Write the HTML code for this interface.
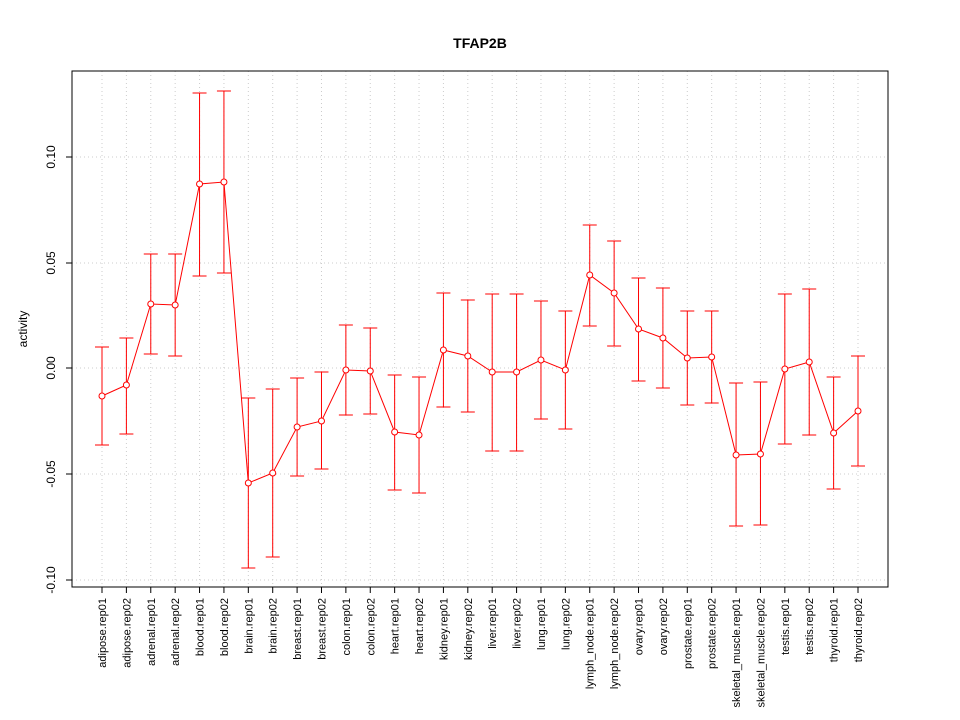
<!DOCTYPE html>
<html><head><meta charset="utf-8"><style>body{margin:0;background:#fff}svg{display:block}</style></head><body>
<svg xmlns="http://www.w3.org/2000/svg" width="960" height="720" viewBox="0 0 960 720" font-family="Liberation Sans, sans-serif">
<rect width="960" height="720" fill="#fff"/>
<text x="480" y="48" text-anchor="middle" font-weight="bold" font-size="14">TFAP2B</text>
<g id="grid" stroke="#ccc" stroke-dasharray="1,3" stroke-width="1"></g>
<g id="plot"></g>
<rect x="72" y="71" width="816" height="516" fill="none" stroke="#000"/>
<g stroke="#000">
<line x1="72" y1="157" x2="72" y2="580"/>
<line x1="66" y1="157" x2="72" y2="157"/><line x1="66" y1="263" x2="72" y2="263"/><line x1="66" y1="368" x2="72" y2="368"/><line x1="66" y1="474" x2="72" y2="474"/><line x1="66" y1="580" x2="72" y2="580"/>
</g>
<g font-size="12" text-anchor="middle">
<text transform="translate(55,157) rotate(-90)">0.10</text>
<text transform="translate(55,263) rotate(-90)">0.05</text>
<text transform="translate(55,368) rotate(-90)">0.00</text>
<text transform="translate(55,474) rotate(-90)">-0.05</text>
<text transform="translate(55,580) rotate(-90)">-0.10</text>
<text transform="translate(27,329) rotate(-90)">activity</text>
</g>
<g id="xl" font-size="11" text-anchor="end"></g>
<script>
var names=["adipose.rep01","adipose.rep02","adrenal.rep01","adrenal.rep02","blood.rep01","blood.rep02","brain.rep01","brain.rep02","breast.rep01","breast.rep02","colon.rep01","colon.rep02","heart.rep01","heart.rep02","kidney.rep01","kidney.rep02","liver.rep01","liver.rep02","lung.rep01","lung.rep02","lymph_node.rep01","lymph_node.rep02","ovary.rep01","ovary.rep02","prostate.rep01","prostate.rep02","skeletal_muscle.rep01","skeletal_muscle.rep02","testis.rep01","testis.rep02","thyroid.rep01","thyroid.rep02"];
var d=[[396,445,347],[385,434,338],[304,354,254],[305,356,254],[184,276,93],[182,273,91],[483,568,398],[473,557,389],[427,476,378],[421,469,372],[370,415,325],[371,414,328],[432,490,375],[435,493,377],[350,407,293],[356,412,300],[372,451,294],[372,451,294],[360,419,301],[370,429,311],[275,326,225],[293,346,241],[329,381,278],[338,388,288],[358,405,311],[357,403,311],[455,526,383],[454,525,382],[369,444,294],[362,435,289],[433,489,377],[411,466,356]];
var ns="http://www.w3.org/2000/svg",g=document.getElementById("grid"),p=document.getElementById("plot"),xl=document.getElementById("xl");
function el(t,a,par){var e=document.createElementNS(ns,t);for(var k in a)e.setAttribute(k,a[k]);par.appendChild(e);return e;}
[157,263,368,474,580].forEach(function(y){el("line",{x1:72,x2:888,y1:y,y2:y},g);});
var pts=[];
d.forEach(function(v,i){var x=102+i*756/31;pts.push(x+","+v[0]);
el("line",{x1:x,x2:x,y1:71,y2:587},g);
el("line",{x1:x,x2:x,y1:v[1],y2:v[2],stroke:"red"},p);
el("line",{x1:x-7,x2:x+7,y1:v[1],y2:v[1],stroke:"red"},p);
el("line",{x1:x-7,x2:x+7,y1:v[2],y2:v[2],stroke:"red"},p);
el("line",{x1:x,x2:x,y1:587,y2:593,stroke:"#000"},p);
var t=el("text",{transform:"translate("+(x+4)+",598) rotate(-90)"},xl);t.textContent=names[i];});
el("polyline",{points:pts.join(" "),fill:"none",stroke:"red"},p);
d.forEach(function(v,i){var x=102+i*756/31;el("circle",{cx:x,cy:v[0],r:3,fill:"#fff",stroke:"red"},p);});
el("line",{x1:102,x2:858,y1:587,y2:587,stroke:"#000"},p);
</script>
</svg>
</body></html>
